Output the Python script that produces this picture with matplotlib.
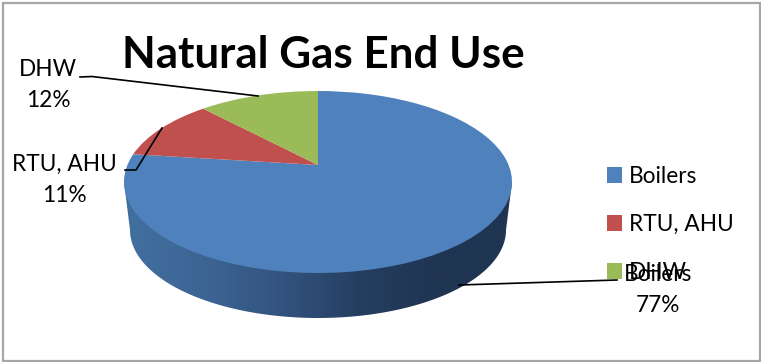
import numpy as np
import matplotlib
matplotlib.use('Agg')
import matplotlib.pyplot as plt
from matplotlib.patches import Polygon, Rectangle
from matplotlib.transforms import Transform
from matplotlib.colors import LinearSegmentedColormap

labels = ['Boilers', 'RTU, AHU', 'DHW']
values = [77, 11, 12]
colors = ['#4F81BD', '#C0504D', '#9BBB59']
title = 'Natural Gas End Use'

plt.rcParams['font.family'] = ['Lato', 'DejaVu Sans']

# pie geometry in pixels
cx, cy, rx, ry = 318, 165, 190.6, 57
persp = 0.1868
base_cy, base_rx, base_ry = 230, 188, 88


# tilts the unit pie so the apex sits above the middle of the ellipse
class Tilt(Transform):
    input_dims = 2
    output_dims = 2

    def transform_non_affine(self, xy):
        xy = np.asarray(xy)
        d = 1 + persp * xy[:, 1]
        return np.column_stack([cx + rx * xy[:, 0] / d,
                                (cy - ry * xy[:, 1]) / d])


fig = plt.figure(figsize=(7.61, 3.62), dpi=100)
ax = fig.add_axes([0, 0, 1, 1])

wedges, _ = ax.pie(values, colors=colors, startangle=90, counterclock=False,
                   radius=1, frame=False)
for w in wedges:
    w.set_transform(Tilt() + ax.transData)
    w.set_zorder(3)
    w.set_linewidth(0)

# side wall of the disc
th = np.linspace(np.pi, 0, 200)
wall_x = 318 + base_rx * np.cos(th)
wall_y = base_cy + base_ry * np.sin(th)
wall = np.vstack([[124, 182], np.column_stack([wall_x, wall_y]), [512, 182]])
wall_patch = Polygon(wall, closed=True, transform=ax.transData, fc='none', ec='none')
ax.add_patch(wall_patch)
wall_cmap = LinearSegmentedColormap.from_list(
    'wall', ['#41709F', '#3D6594', '#335480', '#263F61', '#1F3552', '#1F3552'])
grad = ax.imshow(np.linspace(0, 1, 256)[None, :], cmap=wall_cmap, aspect='auto',
                 extent=[124, 512, 320, 180], zorder=2)
grad.set_clip_path(wall_patch)

ax.set_aspect('auto')
ax.set_xlim(0, 761)
ax.set_ylim(362, 0)
ax.axis('off')

# chart frame
ax.add_patch(Rectangle((3, 2.5), 757, 358, fc='none', ec='#A6A6A6', lw=1.6, zorder=1))

ax.text(323, 55, title, fontsize=31.7, fontweight='bold', ha='center', va='center', zorder=6)

# leader lines
ax.plot([80, 92, 258], [77, 76.5, 96], color='black', lw=1.2, zorder=5)
ax.plot([125, 136, 162], [170, 170, 128], color='black', lw=1.2, zorder=5)
ax.plot([459, 617], [285, 280], color='black', lw=1.2, zorder=5)

# data labels
label_pos = [(658, 290), (64, 180), (48, 85)]
for name, v, (x, y) in zip(labels, values, label_pos):
    ax.text(x, y, f'{name}\n{v}%', fontsize=16.3, ha='center', va='center',
            linespacing=1.6, zorder=7)

leg = ax.legend(wedges, labels, loc='upper left', bbox_to_anchor=(607 / 761, 1 - 166 / 362),
                frameon=False, fontsize=16.3, handlelength=0.68, handleheight=0.68,
                handletextpad=0.3, labelspacing=1.19, borderpad=0, borderaxespad=0)
leg.set_zorder(4)

fig.savefig('out.png', dpi=100)
